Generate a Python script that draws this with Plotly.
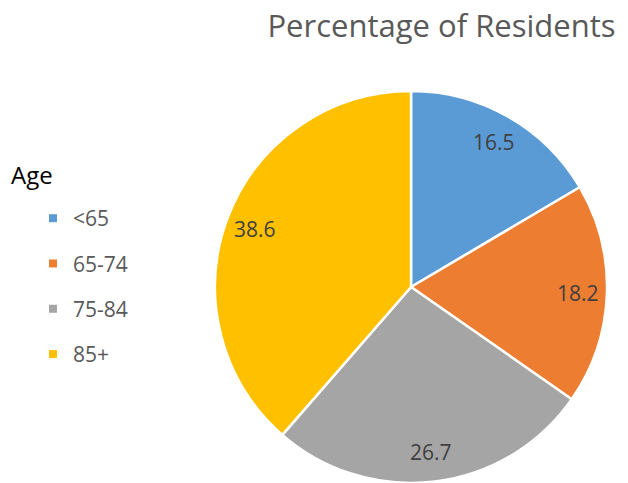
import math
import plotly.graph_objects as go

# Age groups and share of residents (%)
age_groups = ["<65", "65-74", "75-84", "85+"]
percentages = [16.5, 18.2, 26.7, 38.6]
slice_colors = ["#5B9BD5", "#ED7D31", "#A5A5A5", "#FFC000"]

W, H = 628, 483
pie_x = [0.3408, 0.9682]
pie_y = [0.0, 0.8116]

fig = go.Figure()

fig.add_trace(go.Pie(
    labels=age_groups,
    values=percentages,
    sort=False,
    direction="clockwise",
    rotation=0,
    marker=dict(colors=slice_colors, line=dict(color="white", width=2.5)),
    textinfo="none",
    domain=dict(x=pie_x, y=pie_y),
    showlegend=False,
    hoverinfo="label+value",
))

# Value labels placed along each slice's mid-angle, near the rim
cx = (pie_x[0] + pie_x[1]) / 2 * W
cy = (pie_y[0] + pie_y[1]) / 2 * H
radius = min((pie_x[1] - pie_x[0]) * W, (pie_y[1] - pie_y[0]) * H) / 2
total = sum(percentages)
start = 0.0
for v in percentages:
    mid = (start + v / 2) / total * 2 * math.pi
    start += v
    r = 0.85 * radius
    px = cx + r * math.sin(mid)
    py = cy + r * math.cos(mid)
    fig.add_annotation(
        x=px / W, y=py / H, xref="paper", yref="paper",
        text=f"{v}", showarrow=False, xanchor="center", yanchor="middle",
        font=dict(family="Open Sans", size=21, color="#404040"),
    )

# Legend entries drawn as square markers, one group per age band
for name, color in zip(age_groups, slice_colors):
    fig.add_trace(go.Scatter(
        x=[None], y=[None], mode="markers", name=name, legendgroup=name,
        marker=dict(symbol="square", size=8, color=color),
    ))

fig.add_annotation(
    x=9 / W, y=1 - 174 / H, xref="paper", yref="paper",
    text="Age", showarrow=False, xanchor="left", yanchor="middle",
    font=dict(family="Open Sans", size=24, color="#000000"),
)

fig.update_layout(
    width=W, height=H,
    margin=dict(l=0, r=0, t=0, b=0),
    paper_bgcolor="white", plot_bgcolor="white",
    title=dict(text="Percentage of Residents", x=0.703, xanchor="center",
               y=0.945, yanchor="middle",
               font=dict(family="Open Sans", size=31, color="#595959")),
    xaxis=dict(visible=False), yaxis=dict(visible=False),
    legend=dict(
        font=dict(family="Open Sans", size=21, color="#595959"),
        x=0.0525, y=0.590, xanchor="left", yanchor="top",
        traceorder="grouped", tracegroupgap=15,
        itemwidth=30,
    ),
)

fig.write_html("out.html")
